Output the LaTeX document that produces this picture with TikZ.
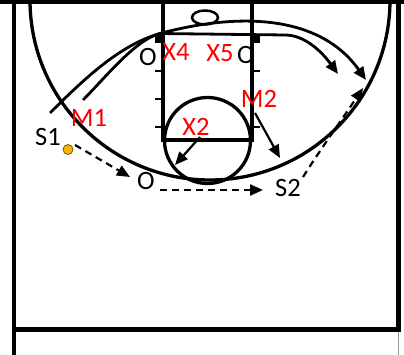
\documentclass[tikz,border=0pt]{standalone}
\usepackage{fontspec}
\setmainfont{Carlito}
\usetikzlibrary{arrows.meta}
\definecolor{ballfill}{RGB}{242,182,0}
\definecolor{ballline}{RGB}{120,90,0}
\begin{document}
\begin{tikzpicture}[x=1pt,y=1pt,
  courtline/.style={line width=4.5pt},
  laneline/.style={line width=3.3pt},
  tip/.style={-{Triangle[length=13pt,width=11pt]}},
  runline/.style={line width=2.8pt, tip},
  moveline/.style={line width=2.2pt, tip},
  passline/.style={line width=2.2pt, dash pattern=on 7pt off 5pt, tip},
  lbl/.style={font=\fontsize{26.5}{26.5}\selectfont, inner sep=0pt},
  redlbl/.style={lbl, text=red},
  ballnode/.style={circle, fill=ballfill, draw=ballline, line width=0.8pt, minimum size=10pt, inner sep=0pt}
]
\useasboundingbox (0,0) rectangle (404,-355);

% court
\draw[courtline] (0,-2) -- (404,-2);
\draw[courtline] (14,0) -- (14,-355);
\draw[courtline] (398.5,0) -- (398.5,-332);
\draw[line width=1.5pt, black!40] (398.5,-332) -- (398.5,-355);
\draw[line width=5pt] (12,-329.5) -- (400.5,-329.5);

% three point arc
\draw[laneline] (30,0) arc[start angle=180, end angle=360, radius=180];

% lane
\draw[laneline] (163,0) -- (163,-140) -- (252,-140) -- (252,0);
\draw[laneline] (207.5,-140.5) circle[radius=43];
% hash marks
\foreach \yy in {71,99,127} \draw[line width=2pt] (155,-\yy) -- (163,-\yy);
\foreach \yy in {71,127} \draw[line width=2pt] (252,-\yy) -- (260,-\yy);
% blocks
\fill (155,-35) rectangle (163,-43);
\fill (252,-35) rectangle (260,-43);
% basket
\draw[line width=2.5pt] (205,-17.5) ellipse[x radius=13, y radius=7];

% labels
\node[lbl] (oL) at (148,-57) {O};
\node[redlbl] (x4) at (176,-52) {X4};
\node[redlbl] (x5) at (220,-53) {X5};
\node[lbl] (oR) at (246,-55) {O};
\node[redlbl] (m1) at (89,-118) {M1};
\node[redlbl] (m2) at (259,-99) {M2};
\node[redlbl] (x2) at (196,-127) {X2};
\node[lbl] (s1) at (48,-137) {S1};
\node[lbl] (s2) at (288,-188) {S2};
\node[lbl] (oB) at (146,-181) {O};
\node[ballnode] (ball) at (68,-149.5) {};

% coordinates for connectors
\coordinate (m1o) at (50,-113);
\coordinate (m1i) at (83,-100);
\coordinate (blk) at (160,-33.5);
\coordinate (tA) at (366,-80);
\coordinate (tB) at (338,-74);
\coordinate (p1s) at (75,-145);
\coordinate (p1t) at (130,-177);
\coordinate (p2s) at (160,-190);
\coordinate (p2t) at (263,-190);
\coordinate (p3s) at (303,-177);
\coordinate (p3t) at (363,-88);
\coordinate (m2s) at (255,-113);
\coordinate (m2t) at (280,-158);
\coordinate (x2s) at (200,-137);
\coordinate (x2t) at (175,-165);

% cuts
\draw[runline] (m1o) .. controls (85,-78) and (120,-45) .. (blk)
  .. controls (240,-12) and (320,-15) .. (tA);
\draw[runline] (m1i) .. controls (105,-78) and (135,-40) .. (blk)
  -- (285,-35) .. controls (305,-35) and (322,-52) .. (tB);
\draw[moveline] (m2s) -- (m2t);
\draw[moveline] (x2s) -- (x2t);

% passes / dribbles
\draw[passline] (p1s) -- (p1t);
\draw[passline] (p2s) -- (p2t);
\draw[passline] (p3s) .. controls (320,-150) and (345,-115) .. (p3t);
\end{tikzpicture}
\end{document}
